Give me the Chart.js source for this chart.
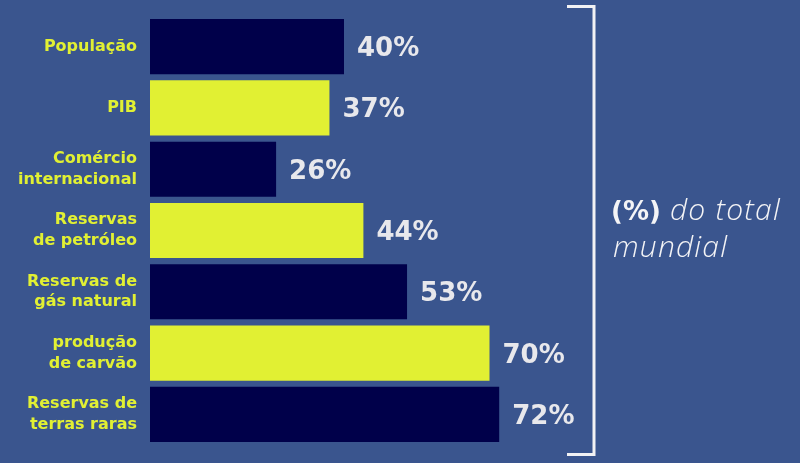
<!DOCTYPE html>
<html>
<head>
<meta charset="utf-8">
<script src="https://cdn.jsdelivr.net/npm/chart.js@4/dist/chart.umd.min.js"></script>
<style>
html,body{margin:0;padding:0;background:#3a558e;}
canvas{display:block;}
</style>
</head>
<body>
<canvas id="c" width="800" height="463"></canvas>
<script>
const categories = [
  ['População'],
  ['PIB'],
  ['Comércio','internacional'],
  ['Reservas','de petróleo'],
  ['Reservas de','gás natural'],
  ['produção','de carvão'],
  ['Reservas de','terras raras']
];
const values = [40, 37, 26, 44, 53, 70, 72];
const valueLabels = ['40%', '37%', '26%', '44%', '53%', '70%', '72%'];
const sideTitleBold = '(%)';
const sideTitleLine1 = 'do total';
const sideTitleLine2 = 'mundial';

const BG = '#3a558e';
const DARK = '#00004a';
const YELLOW = '#e1f033';
const barColors = values.map((v, i) => i % 2 === 0 ? DARK : YELLOW);

const decor = {
  id: 'decor',
  beforeDraw(chart) {
    const ctx = chart.ctx;
    ctx.save();
    ctx.fillStyle = BG;
    ctx.fillRect(0, 0, chart.width, chart.height);
    ctx.restore();
  },
  afterDatasetsDraw(chart) {
    const ctx = chart.ctx;
    const meta = chart.getDatasetMeta(0);
    ctx.save();
    ctx.font = 'bold 26px "DejaVu Sans"';
    ctx.fillStyle = '#e8e8ec';
    ctx.textAlign = 'left';
    ctx.textBaseline = 'alphabetic';
    meta.data.forEach((bar, i) => {
      ctx.fillText(valueLabels[i], bar.x + 13, bar.y + 9.5);
    });
    ctx.restore();
  },
  afterDraw(chart) {
    const ctx = chart.ctx;
    ctx.save();
    ctx.strokeStyle = '#f2f2f4';
    ctx.lineWidth = 3;
    ctx.beginPath();
    ctx.moveTo(567, 6.5);
    ctx.lineTo(594, 6.5);
    ctx.lineTo(594, 454.5);
    ctx.lineTo(567, 454.5);
    ctx.stroke();
    ctx.fillStyle = '#f4f4f6';
    ctx.textBaseline = 'alphabetic';
    ctx.textAlign = 'left';
    ctx.font = 'bold 26px "DejaVu Sans"';
    ctx.fillText(sideTitleBold, 611, 220);
    ctx.font = 'italic 300 30px "Open Sans", "Lato", "DejaVu Sans"';
    ctx.letterSpacing = '1.2px';
    ctx.fillText(sideTitleLine1, 670, 220);
    ctx.fillText(sideTitleLine2, 613, 257);
    ctx.restore();
  }
};

new Chart(document.getElementById('c'), {
  type: 'bar',
  data: {
    labels: categories,
    datasets: [{
      data: values,
      backgroundColor: barColors,
      borderWidth: 0,
      barPercentage: 0.9,
      categoryPercentage: 1.0
    }]
  },
  options: {
    indexAxis: 'y',
    responsive: false,
    animation: false,
    devicePixelRatio: 1,
    layout: { padding: { top: 16, bottom: 18, left: 0, right: 165 } },
    plugins: { legend: { display: false }, tooltip: { enabled: false } },
    scales: {
      x: { display: false, min: 0, max: 100 },
      y: {
        grid: { display: false, drawTicks: false },
        border: { display: false },
        ticks: {
          color: YELLOW,
          padding: 13,
          font: { family: '"DejaVu Sans"', weight: 'bold', size: 16, lineHeight: 1.3 }
        },
        afterFit(scale) {
          scale.width = 150;
          scale.paddingTop = 0;
          scale.paddingBottom = 0;
        }
      }
    }
  },
  plugins: [decor]
});
</script>
</body>
</html>
